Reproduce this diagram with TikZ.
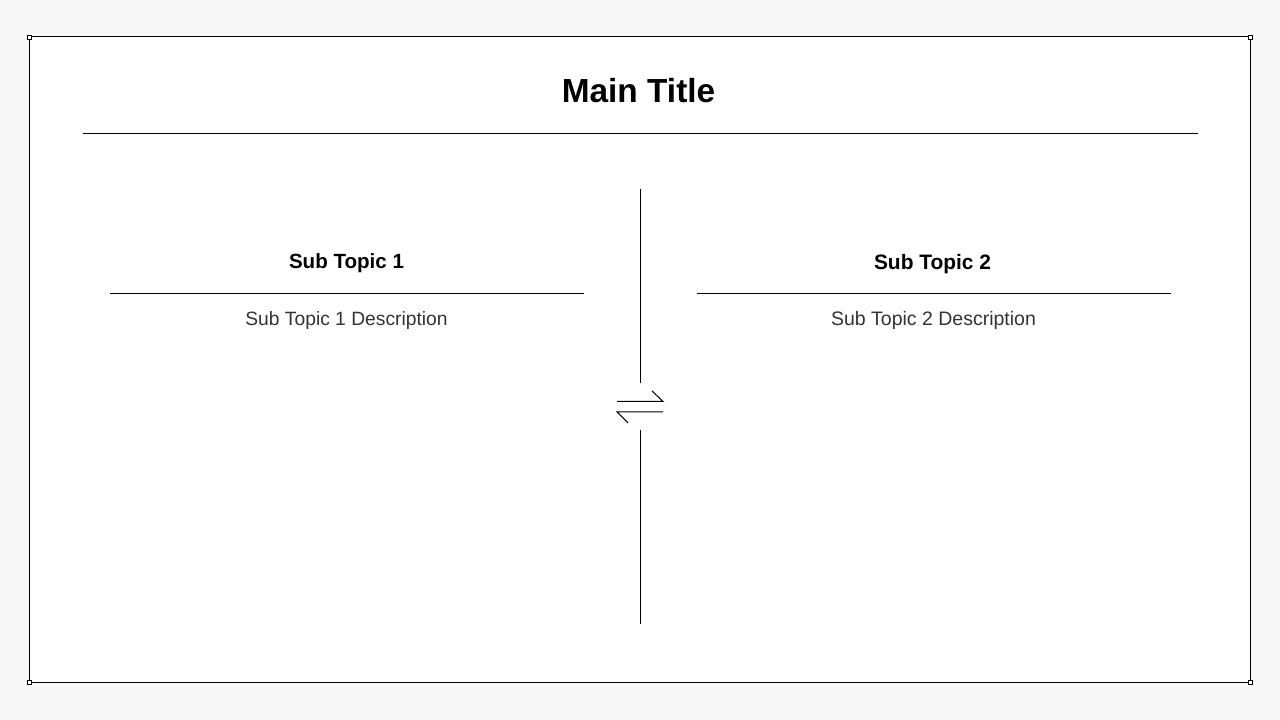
\documentclass[tikz,border=0pt]{standalone}
\usepackage{fontspec}
\setmainfont{Liberation Sans}
\definecolor{pagegrey}{HTML}{F6F6F6}
\tikzset{
  rulethin/.style={line width=0.29pt,black},
  handlebox/.style={draw=black,fill=white,line width=0.25pt,minimum size=0.04cm,inner sep=0pt},
}
\begin{document}
\begin{tikzpicture}
\useasboundingbox (0,0) rectangle (12.8,7.2);
%background
\fill[pagegrey] (0,0) rectangle (12.8,7.2);
%frame
\coordinate (frameTL) at (0.295,6.83);
\coordinate (frameBR) at (12.50,0.375);
\draw[fill=white,line width=0.29pt] (frameTL) rectangle (frameBR);
\node[handlebox] (handleTL) at (0.295,6.83){};
\node[handlebox] (handleTR) at (12.50,6.83){};
\node[handlebox] (handleBL) at (0.295,0.375){};
\node[handlebox] (handleBR) at (12.50,0.375){};
%title
\node[font=\fontsize{9.5}{11}\selectfont\bfseries] (mainTitle) at (6.385,6.29){Main Title};
\coordinate (titleL) at (0.83,5.865);
\coordinate (titleR) at (11.975,5.865);
\draw[rulethin] (titleL)--(titleR);
%left column
\node[font=\fontsize{5.85}{8}\selectfont\bfseries] (topicOne) at (3.465,4.57){Sub Topic 1};
\coordinate (oneL) at (1.10,4.265);
\coordinate (oneR) at (5.84,4.265);
\draw[rulethin] (oneL)--(oneR);
\node[font=\fontsize{5.48}{7}\selectfont,text=black!80] (descOne) at (3.465,3.99){Sub Topic 1 Description};
%right column
\node[font=\fontsize{5.95}{8}\selectfont\bfseries] (topicTwo) at (9.325,4.56){Sub Topic 2};
\coordinate (twoL) at (6.97,4.265);
\coordinate (twoR) at (11.71,4.265);
\draw[rulethin] (twoL)--(twoR);
\node[font=\fontsize{5.55}{7}\selectfont,text=black!80] (descTwo) at (9.335,4.00){Sub Topic 2 Description};
%divider
\coordinate (divA) at (6.405,5.31);
\coordinate (divB) at (6.405,3.37);
\coordinate (divC) at (6.405,2.90);
\coordinate (divD) at (6.405,0.96);
\draw[rulethin] (divA)--(divB);
\draw[rulethin] (divC)--(divD);
%harpoons
\coordinate (upL) at (6.17,3.185);
\coordinate (upR) at (6.63,3.185);
\coordinate (upBarb) at (6.52,3.29);
\coordinate (lowR) at (6.63,3.08);
\coordinate (lowL) at (6.17,3.08);
\coordinate (lowBarb) at (6.28,2.97);
\draw[rulethin] (upL)--(upR)--(upBarb);
\draw[rulethin] (lowR)--(lowL)--(lowBarb);
\end{tikzpicture}
\end{document}
